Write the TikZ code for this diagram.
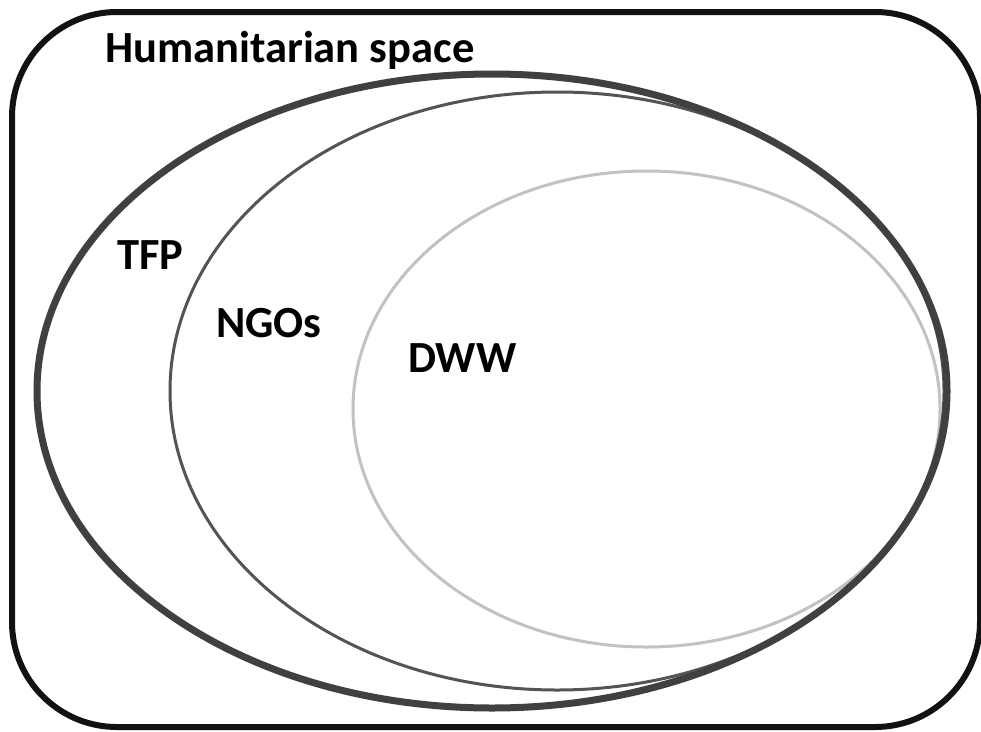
\documentclass[tikz,border=0pt]{standalone}
\usepackage{fontspec}
\setmainfont{Carlito}
\begin{document}
\begin{tikzpicture}[x=1pt,y=-1pt,
  lbl/.style={anchor=base west,inner sep=0pt,font=\fontsize{44.5}{50}\selectfont\bfseries}]
\useasboundingbox (0,0) rectangle (981,731);
\fill[white] (0,0) rectangle (981,731);
\draw[line width=6pt,color=black!93,rounded corners=105pt] (12,12) rectangle (980,727);
\draw[line width=3pt,color=black!24] (646.5,409) ellipse [x radius=293.5,y radius=238];
\draw[line width=3pt,color=black!67] (557,391) ellipse [x radius=387,y radius=299];
\draw[line width=7pt,color=black!75] (492,391) ellipse [x radius=455,y radius=317];
\node[lbl] (hs) at (105,62) {Humanitarian space};
\node[lbl] (tfp) at (117,269) {TFP};
\node[lbl] (ngo) at (216,337) {NGOs};
\node[lbl] (dww) at (408,372) {DWW};
\end{tikzpicture}
\end{document}
